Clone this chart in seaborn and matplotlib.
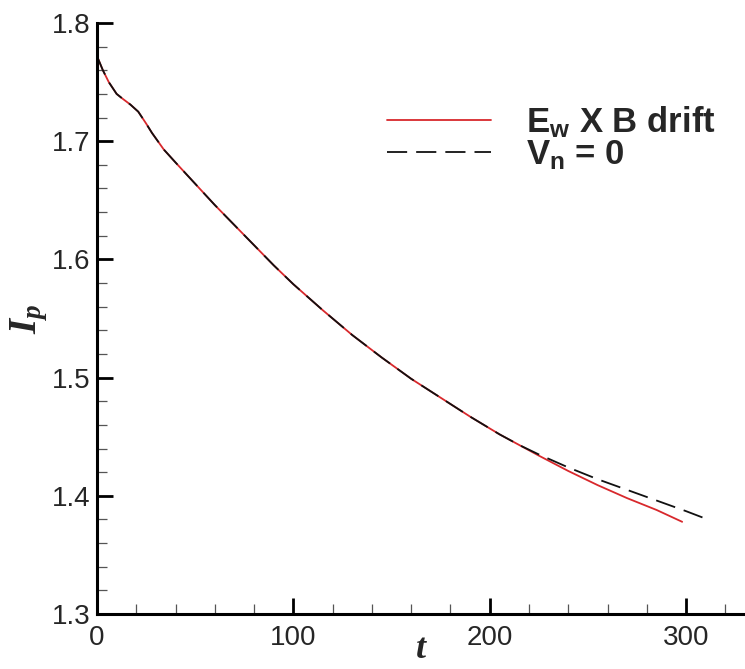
import matplotlib
matplotlib.use("Agg")
import matplotlib.pyplot as plt
import seaborn as sns
import pandas as pd
import numpy as np
from matplotlib.ticker import MultipleLocator

# ---- data ----
t_common = [0, 3, 6, 10, 13, 17, 21, 25, 28, 34, 40, 50, 60, 70, 80, 90,
            100, 115, 130, 145, 160, 175, 190, 205, 215]
I_common = [1.772, 1.760, 1.750, 1.740, 1.736, 1.731, 1.725, 1.715, 1.707,
            1.693, 1.682, 1.664, 1.646, 1.629, 1.612, 1.595, 1.579, 1.557,
            1.536, 1.517, 1.499, 1.483, 1.467, 1.452, 1.443]
t_drift_tail = [225, 240, 255, 270, 285, 298]
I_drift_tail = [1.434, 1.421, 1.409, 1.398, 1.388, 1.378]
t_vn0_tail = [225, 240, 255, 270, 285, 300, 311]
I_vn0_tail = [1.435, 1.424, 1.414, 1.405, 1.396, 1.387, 1.380]

label_drift = r"E$_w$ X B drift"
label_vn0 = r"V$_n$ = 0"

x_ticks = [0, 100, 200, 300]
y_ticks = [1.3, 1.4, 1.5, 1.6, 1.7, 1.8]

df = pd.concat([
    pd.DataFrame({"t": t_common + t_drift_tail, "I": I_common + I_drift_tail,
                  "series": label_drift}),
    pd.DataFrame({"t": t_common + t_vn0_tail, "I": I_common + I_vn0_tail,
                  "series": label_vn0}),
], ignore_index=True)

sns.set_style("ticks")
plt.rcParams["font.family"] = ["Liberation Sans", "DejaVu Sans"]
plt.rcParams["mathtext.fontset"] = "custom"
plt.rcParams["mathtext.rm"] = "Liberation Sans:bold"
plt.rcParams["mathtext.it"] = "Liberation Serif:bold:italic"
plt.rcParams["mathtext.bf"] = "Liberation Sans:bold"
plt.rcParams["mathtext.default"] = "rm"
plt.rcParams["lines.scale_dashes"] = False

fig = plt.figure(figsize=(7.45, 6.69), dpi=100)
ax = fig.add_axes([0.1302, 0.0822, 0.8698, 0.8834])

sns.lineplot(data=df, x="t", y="I", hue="series", style="series",
             palette={label_drift: "#d8282c", label_vn0: "#111111"},
             dashes={label_drift: "", label_vn0: (14.5, 6.5)},
             linewidth=1.3, sort=False, estimator=None, ax=ax, legend=True)

ax.set_xlim(0, 330)
ax.set_ylim(1.3, 1.8)
ax.set_xticks(x_ticks)
ax.set_yticks(y_ticks)
ax.set_yticklabels([f"{v:.1f}" for v in y_ticks])
ax.xaxis.set_minor_locator(MultipleLocator(20))
ax.yaxis.set_minor_locator(MultipleLocator(0.02))

for side in ["top", "right"]:
    ax.spines[side].set_visible(False)
for side in ["left", "bottom"]:
    ax.spines[side].set_linewidth(2.2)
    ax.spines[side].set_color("black")
    ax.spines[side].set_capstyle("projecting")

ax.tick_params(which="major", direction="in", length=11.5, width=2.0,
               labelsize=20, pad=5, color="black")
ax.tick_params(axis="x", which="major", pad=8)
ax.tick_params(which="minor", direction="in", length=7, width=0.9,
               color="#555555")

ax.set_xlabel("t", fontsize=26, fontfamily="Liberation Serif",
              fontweight="bold", fontstyle="italic", labelpad=-13)
ax.set_ylabel(r"$\mathit{I_p}$", fontsize=28, labelpad=1)

h, l = ax.get_legend_handles_labels()
leg = ax.legend(h, l, loc="upper left", bbox_to_anchor=(387 / 745, 1 - 104 / 669),
                bbox_transform=fig.transFigure, frameon=False, fontsize=25,
                handlelength=3.0, handletextpad=1.0, labelspacing=-0.05,
                borderpad=0, borderaxespad=0)
for txt in leg.get_texts():
    txt.set_fontweight("bold")

fig.savefig("out.png", dpi=100)
